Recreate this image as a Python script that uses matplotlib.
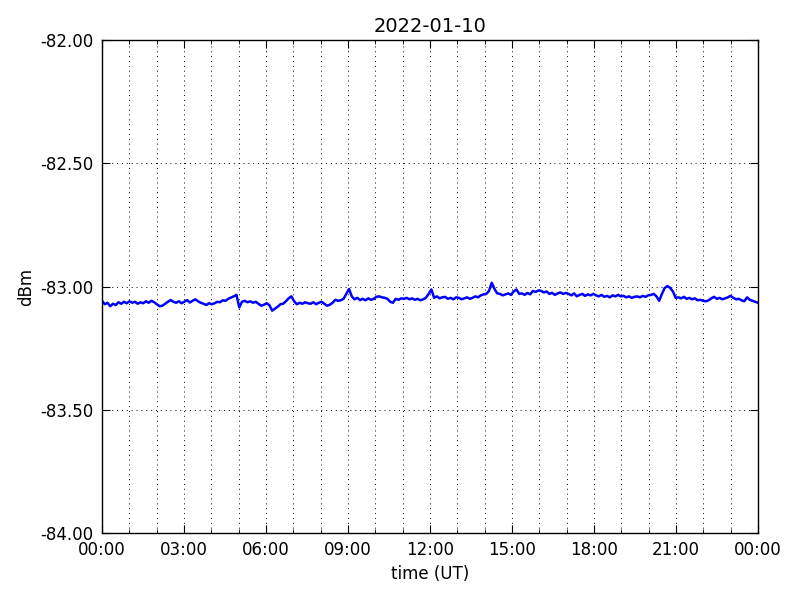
import numpy as np
import matplotlib
matplotlib.use("Agg")
import matplotlib.pyplot as plt
from matplotlib.ticker import MultipleLocator, FuncFormatter, FormatStrFormatter

title = "2022-01-10"
xlabel = "time (UT)"
ylabel = "dBm"
y_limits = (-84.0, -82.0)
x_limits_hours = (0, 24)

# signal level (dBm), one reading every ~6 minutes, hour by hour
h00 = [-83.058, -83.072, -83.066, -83.080, -83.070, -83.075, -83.064, -83.070, -83.062, -83.068]
h01 = [-83.060, -83.066, -83.062, -83.070, -83.064, -83.068, -83.060, -83.066, -83.058, -83.064]
h02 = [-83.072, -83.080, -83.078, -83.070, -83.062, -83.055, -83.062, -83.066, -83.060, -83.068]
h03 = [-83.062, -83.055, -83.065, -83.058, -83.052, -83.060, -83.066, -83.070, -83.075, -83.068]
h04 = [-83.072, -83.068, -83.062, -83.064, -83.056, -83.058, -83.050, -83.045, -83.040, -83.034]
h05 = [-83.085, -83.062, -83.058, -83.064, -83.060, -83.066, -83.062, -83.070, -83.078, -83.074]
h06 = [-83.068, -83.076, -83.098, -83.090, -83.082, -83.072, -83.070, -83.060, -83.048, -83.040]
h07 = [-83.060, -83.072, -83.066, -83.070, -83.064, -83.068, -83.070, -83.064, -83.072, -83.066]
h08 = [-83.062, -83.070, -83.078, -83.074, -83.066, -83.054, -83.058, -83.056, -83.050, -83.030]
h09 = [-83.010, -83.040, -83.052, -83.046, -83.055, -83.050, -83.056, -83.048, -83.054, -83.050]
h10 = [-83.042, -83.040, -83.044, -83.046, -83.050, -83.062, -83.066, -83.050, -83.054, -83.048]
h11 = [-83.050, -83.046, -83.052, -83.048, -83.054, -83.050, -83.056, -83.052, -83.046, -83.030]
h12 = [-83.012, -83.046, -83.040, -83.048, -83.044, -83.042, -83.050, -83.046, -83.052, -83.044]
h13 = [-83.046, -83.052, -83.048, -83.044, -83.050, -83.046, -83.040, -83.044, -83.036, -83.032]
h14 = [-83.030, -83.018, -82.985, -83.010, -83.028, -83.030, -83.036, -83.032, -83.028, -83.034]
h15 = [-83.020, -83.012, -83.030, -83.028, -83.034, -83.026, -83.032, -83.018, -83.022, -83.016]
h16 = [-83.018, -83.024, -83.020, -83.030, -83.026, -83.034, -83.028, -83.024, -83.030, -83.026]
h17 = [-83.030, -83.036, -83.028, -83.040, -83.034, -83.030, -83.038, -83.032, -83.036, -83.030]
h18 = [-83.036, -83.040, -83.034, -83.042, -83.038, -83.044, -83.036, -83.040, -83.034, -83.040]
h19 = [-83.038, -83.044, -83.040, -83.046, -83.042, -83.040, -83.044, -83.038, -83.042, -83.036]
h20 = [-83.034, -83.030, -83.040, -83.058, -83.030, -83.006, -82.998, -83.006, -83.020, -83.046]
h21 = [-83.044, -83.048, -83.042, -83.050, -83.046, -83.052, -83.048, -83.056, -83.054, -83.058]
h22 = [-83.060, -83.056, -83.048, -83.042, -83.050, -83.046, -83.052, -83.048, -83.044, -83.038]
h23 = [-83.046, -83.052, -83.050, -83.056, -83.060, -83.044, -83.054, -83.058, -83.062, -83.066]

level = np.array(h00 + h01 + h02 + h03 + h04 + h05 + h06 + h07 + h08 + h09 + h10 + h11 +
                 h12 + h13 + h14 + h15 + h16 + h17 + h18 + h19 + h20 + h21 + h22 + h23)
hours = np.linspace(x_limits_hours[0], x_limits_hours[1], len(level))

plt.rcParams['font.family'] = ['DejaVu Sans']
fig = plt.figure(figsize=(8, 6), dpi=100, facecolor='white')
ax = fig.add_axes([0.1275, 0.1117, 0.82, 0.8216])
ax.plot(hours, level, color='blue', linewidth=1.8)

ax.set_xlim(*x_limits_hours)
ax.set_ylim(*y_limits)
ax.xaxis.set_major_locator(MultipleLocator(3))
ax.xaxis.set_minor_locator(MultipleLocator(1))
ax.xaxis.set_major_formatter(FuncFormatter(lambda v, p: "%02d:00" % (int(round(v)) % 24)))
ax.yaxis.set_major_locator(MultipleLocator(0.5))
ax.yaxis.set_major_formatter(FormatStrFormatter('%.2f'))

grid_style = dict(color='black', linestyle=(0, (1, 4)), linewidth=0.7)
ax.grid(True, which='major', axis='both', **grid_style)
ax.grid(True, which='minor', axis='x', **grid_style)
ax.tick_params(which='both', direction='in', top=True, right=True, labelsize=12, pad=6)
ax.tick_params(which='major', length=6)
ax.tick_params(which='minor', length=3)
for s in ax.spines.values():
    s.set_linewidth(1.0)

ax.set_title(title, fontsize=14, pad=6)
ax.set_xlabel(xlabel, fontsize=12)
ax.set_ylabel(ylabel, fontsize=12)

fig.savefig("out.png", dpi=100, facecolor='white')
